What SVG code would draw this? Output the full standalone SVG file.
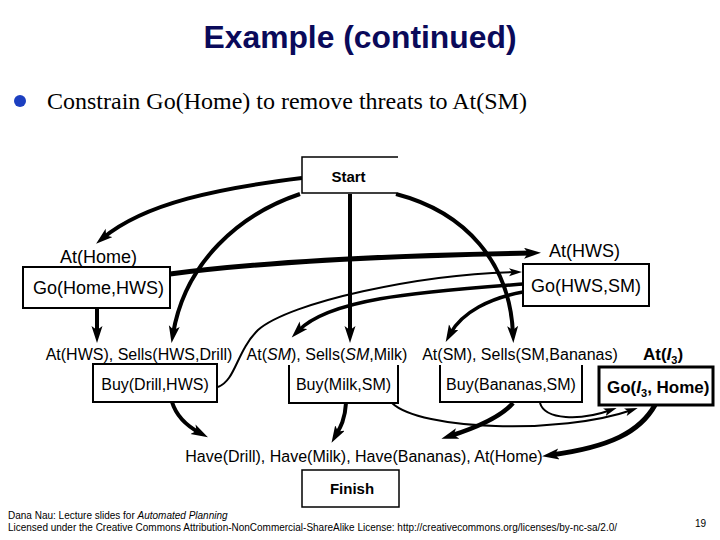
<svg xmlns="http://www.w3.org/2000/svg" width="720" height="540" viewBox="0 0 720 540">
<defs>
<marker id="ah" markerUnits="userSpaceOnUse" markerWidth="18" markerHeight="12" refX="8" refY="5.5" orient="auto">
<path d="M0,0 L17,5.5 L0,11 L4,5.5 z" fill="#000"/>
</marker>
<marker id="as" markerUnits="userSpaceOnUse" markerWidth="14" markerHeight="10" refX="7" refY="4" orient="auto">
<path d="M0,0 L13,4 L0,8 L3,4 z" fill="#000"/>
</marker>
</defs>
<style>
.lbl{font-family:"Liberation Sans",Arial,sans-serif;font-size:16px;fill:#000}
.lbl18{font-family:"Liberation Sans",Arial,sans-serif;font-size:18px;fill:#000}
.bold{font-family:"Liberation Sans",Arial,sans-serif;font-weight:bold;fill:#000}
.box{fill:#fff;stroke:#000;stroke-width:2}
.e{fill:none;stroke:#000}
.thick{stroke-width:4;marker-end:url(#ah)}
.mid{stroke-width:3.5;marker-end:url(#ah)}
.thin{stroke-width:2;marker-end:url(#as)}
.foot{font-family:"Liberation Sans",Arial,sans-serif;font-size:10px;fill:#000}
</style>
<rect width="720" height="540" fill="#fff"/>

<text x="360" y="48" text-anchor="middle" font-family="Liberation Sans, Arial, sans-serif" font-weight="bold" font-size="31" fill="#0a0a5a" textLength="313" lengthAdjust="spacingAndGlyphs">Example (continued)</text>
<circle cx="20" cy="101" r="6" fill="#1c3fc0"/>
<text x="47" y="109" font-family="Liberation Serif, Times New Roman, serif" font-size="24" fill="#000">Constrain Go(Home) to remove threats to At(SM)</text>

<g id="connectors">
<path class="e thick" d="M302,178 C220,188 145,203 103,238"/>
<path class="e thick" d="M300,194 C240,214 185,262 173,334"/>
<path class="e thick" d="M350,194 V334"/>
<path class="e thick" d="M396,194 C465,212 510,262 513,334"/>
<path class="e" stroke-width="5" marker-end="url(#ah)" d="M170,274 Q300,257 532,253"/>
<path class="e thick" d="M97,308 V334"/>
<path class="e thin" d="M218,387 C236,380 236,352 258,330 C290,302 420,274 516,272"/>
<path class="e mid" d="M523,284 C420,292 330,298 298,331"/>
<path class="e mid" d="M523,292 C490,298 462,312 450,334"/>
<path class="e thick" d="M172,402 C176,415 185,425 200,433"/>
<path class="e thick" d="M346,403 C345,420 340,428 336,435"/>
<path class="e" stroke-width="4.5" marker-end="url(#ah)" d="M513,403 C500,418 475,428 450,436"/>
<path class="e" stroke-width="5" marker-end="url(#ah)" d="M655,405 C640,432 610,447 551,455"/>
<path class="e thin" d="M540,403 C545,420 580,421 611,410"/>
<path class="e thin" d="M392,403 C420,430 560,435 632,410"/>
</g>

<g id="start">
<rect x="302" y="157" width="96" height="36" fill="#fff"/>
<path d="M398,157 H302 V193 H398" fill="none" stroke="#000" stroke-width="1.5"/>
<text class="bold" x="348.5" y="182" text-anchor="middle" font-size="15">Start</text>
</g>

<g id="go-home-hws">
<rect class="box" x="23" y="267" width="147" height="41"/>
<text class="lbl18" x="98.5" y="294" text-anchor="middle">Go(Home,HWS)</text>
<text class="lbl18" x="98.5" y="263" text-anchor="middle">At(Home)</text>
</g>

<g id="go-hws-sm">
<rect class="box" x="523" y="264" width="126" height="42"/>
<text class="lbl18" x="586" y="292" text-anchor="middle">Go(HWS,SM)</text>
<text class="lbl18" x="584.5" y="257" text-anchor="middle">At(HWS)</text>
</g>

<g id="buy-drill">
<text class="lbl" x="139" y="360" text-anchor="middle">At(HWS), Sells(HWS,Drill)</text>
<rect class="box" x="93" y="364" width="124" height="38"/>
<text class="lbl" x="155" y="390" text-anchor="middle">Buy(Drill,HWS)</text>
</g>

<g id="buy-milk">
<text class="lbl" x="327" y="360" text-anchor="middle">At(<tspan font-style="italic">SM</tspan>), Sells(<tspan font-style="italic">SM</tspan>,Milk)</text>
<path d="M289,365 V403 H398 V365" fill="#fff" stroke="#000" stroke-width="2"/>
<text class="lbl" x="343.5" y="390" text-anchor="middle">Buy(Milk,SM)</text>
</g>

<g id="buy-bananas">
<text class="lbl" x="520" y="360" text-anchor="middle">At(SM), Sells(SM,Bananas)</text>
<path d="M440,365 V402 H582 V365" fill="#fff" stroke="#000" stroke-width="2"/>
<text class="lbl" x="511" y="390" text-anchor="middle">Buy(Bananas,SM)</text>
</g>

<g id="go-i3-home">
<text class="bold" x="643" y="360" font-size="17">At(<tspan font-style="italic">I</tspan><tspan font-size="11" dy="4">3</tspan><tspan dy="-4">)</tspan></text>
<rect x="599" y="367" width="114" height="38" fill="#fff" stroke="#000" stroke-width="3"/>
<text class="bold" x="607" y="393" font-size="17">Go(<tspan font-style="italic">I</tspan><tspan font-size="11" dy="4">3</tspan><tspan dy="-4">, Home)</tspan></text>
</g>

<g id="finish">
<text class="lbl" x="364" y="462" text-anchor="middle">Have(Drill), Have(Milk), Have(Bananas), At(Home)</text>
<rect x="302" y="470" width="97" height="37" fill="#fff" stroke="#000" stroke-width="1.5"/>
<text class="bold" x="352" y="494" text-anchor="middle" font-size="15">Finish</text>
</g>

<text class="foot" x="8" y="519">Dana Nau: Lecture slides for <tspan font-style="italic">Automated Planning</tspan></text>
<text class="foot" x="8" y="531" textLength="609" lengthAdjust="spacingAndGlyphs">Licensed under the Creative Commons Attribution-NonCommercial-ShareAlike License: http://creativecommons.org/licenses/by-nc-sa/2.0/</text>
<text class="foot" x="695" y="527">19</text>
</svg>
